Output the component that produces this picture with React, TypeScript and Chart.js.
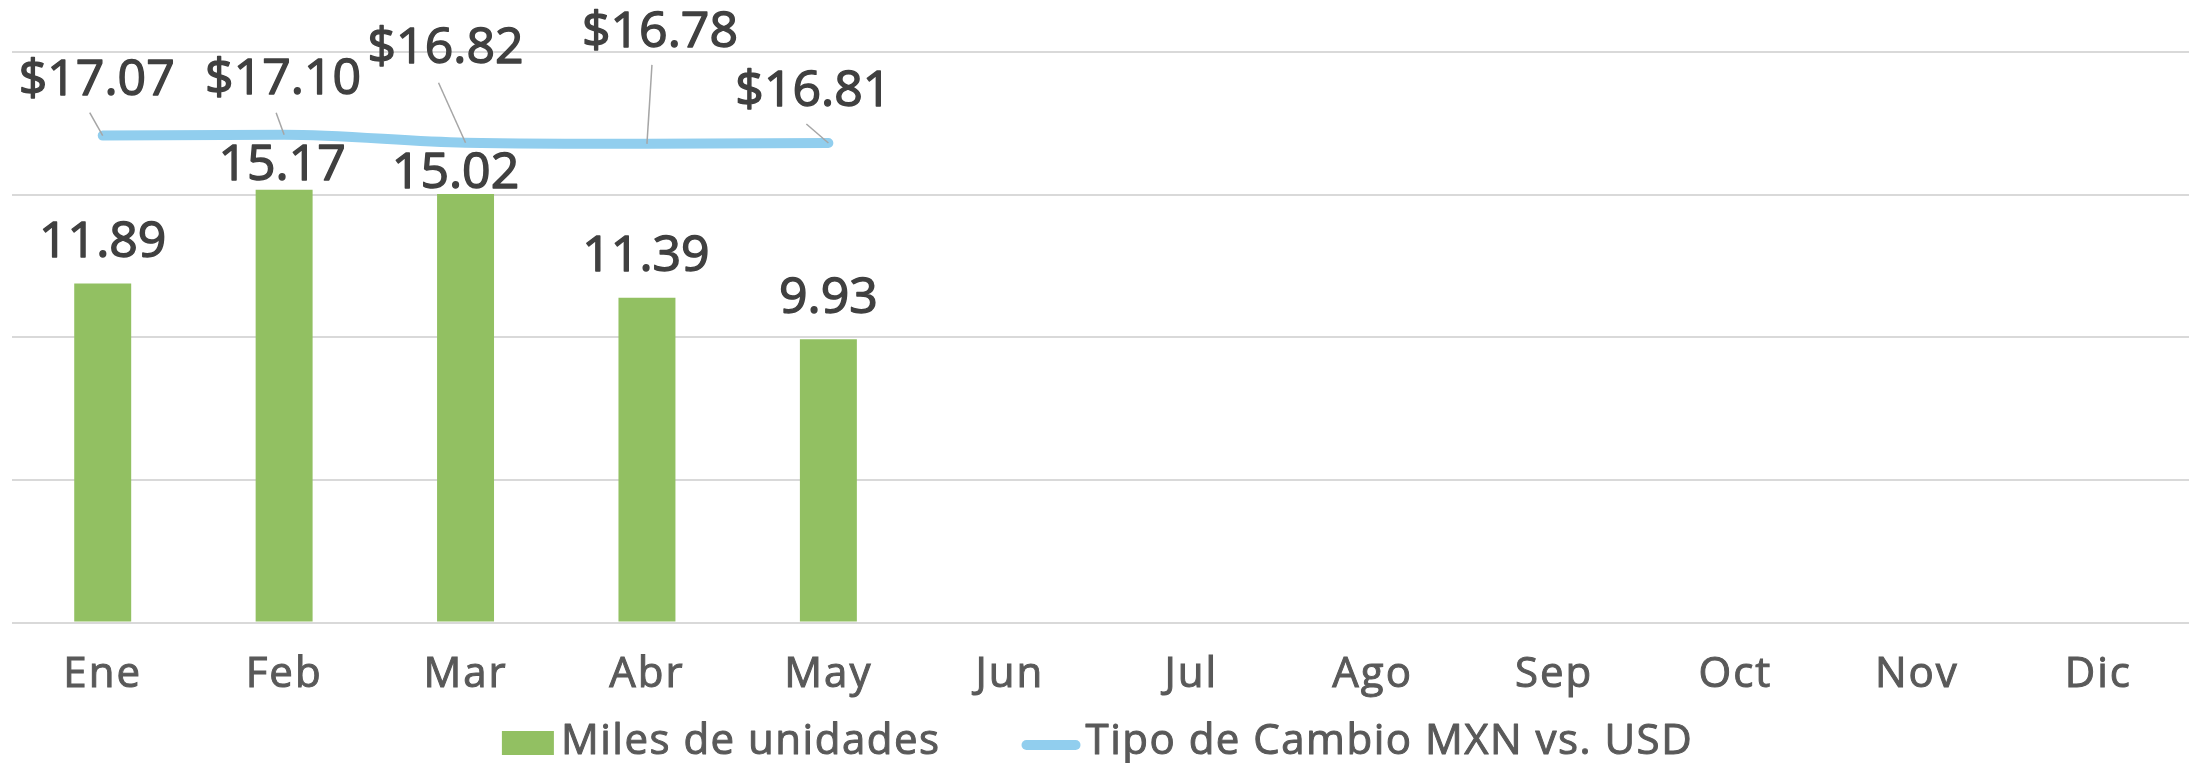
import React, { useEffect, useRef } from 'react';
import { Chart, registerables } from 'chart.js';

Chart.register(...registerables);

const months = ['Ene', 'Feb', 'Mar', 'Abr', 'May', 'Jun', 'Jul', 'Ago', 'Sep', 'Oct', 'Nov', 'Dic'];
const unidades: (number | null)[] = [11.89, 15.17, 15.02, 11.39, 9.93, null, null, null, null, null, null, null];
const tipoCambio: (number | null)[] = [17.07, 17.1, 16.82, 16.78, 16.81, null, null, null, null, null, null, null];
const axisMin = 0;
const axisMax = 20;
const axisStep = 5;
const seriesNames = ['Miles de unidades', 'Tipo de Cambio MXN vs. USD'];

const FONT = '"Open Sans", Lato, sans-serif';
const BAR_COLOR = '#92C062';
const LINE_COLOR = '#91CEEE';
const LABEL_COLOR = '#404040';
const AXIS_COLOR = '#595959';

// label placement (offsets from the element, in px): [dx, baseline dy]
const barLabelOffsets = [[0, -26], [-2, -10], [-10, -6], [-1, -27], [0, -26]];
const lineLabelOffsets = [[-6, -41], [-1, -41], [-20, -80], [13, -97], [-15, -37]];
const leaderStarts = [[-13, -23], [-8, -22], [-27, -60], [5, -79], [-22, -19]];

function boldText(ctx: CanvasRenderingContext2D, text: string, x: number, y: number, color: string, w: number) {
  ctx.fillStyle = color;
  ctx.strokeStyle = color;
  ctx.lineWidth = w;
  ctx.lineJoin = 'round';
  ctx.strokeText(text, x, y);
  ctx.fillText(text, x, y);
}

const labelsPlugin = {
  id: 'valueLabels',
  beforeDraw(chart: any) {
    chart.ctx.letterSpacing = '2px';
  },
  afterDatasetsDraw(chart: any) {
    const ctx = chart.ctx;
    ctx.save();
    ctx.letterSpacing = '0px';
    ctx.font = `50px ${FONT}`;
    ctx.textAlign = 'center';
    ctx.textBaseline = 'alphabetic';
    const barMeta = chart.getDatasetMeta(0);
    barMeta.data.forEach((el: any, i: number) => {
      const v = unidades[i];
      if (v == null) return;
      const off = barLabelOffsets[i] || [0, -26];
      boldText(ctx, v.toFixed(2), el.x + off[0], el.y + off[1], LABEL_COLOR, 1.4);
    });
    const lineMeta = chart.getDatasetMeta(1);
    lineMeta.data.forEach((el: any, i: number) => {
      const v = tipoCambio[i];
      if (v == null) return;
      const ls = leaderStarts[i] || [0, -20];
      ctx.strokeStyle = '#A6A6A6';
      ctx.lineWidth = 1.5;
      ctx.beginPath();
      ctx.moveTo(el.x + ls[0], el.y + ls[1]);
      ctx.lineTo(el.x, el.y);
      ctx.stroke();
      const off = lineLabelOffsets[i] || [0, -40];
      boldText(ctx, '$' + v.toFixed(2), el.x + off[0], el.y + off[1], LABEL_COLOR, 1.4);
    });
    ctx.restore();
  },
  afterDraw(chart: any) {
    const ctx = chart.ctx;
    ctx.save();
    ctx.letterSpacing = '1.5px';
    ctx.font = `42px ${FONT}`;
    ctx.textBaseline = 'alphabetic';
    ctx.textAlign = 'left';
    const baseline = chart.height - 9;
    const w1 = ctx.measureText(seriesNames[0]).width;
    const w2 = ctx.measureText(seriesNames[1]).width;
    const boxW = 52, gap1 = 7, itemGap = 81, lineW = 59, gap2 = 5;
    const total = boxW + gap1 + w1 + itemGap + lineW + gap2 + w2;
    let x = (chart.width - total) / 2;
    ctx.fillStyle = BAR_COLOR;
    ctx.fillRect(x, baseline - 23, boxW, 24);
    x += boxW + gap1;
    boldText(ctx, seriesNames[0], x, baseline, AXIS_COLOR, 1);
    x += w1 + itemGap;
    ctx.strokeStyle = LINE_COLOR;
    ctx.lineWidth = 10;
    ctx.lineCap = 'round';
    ctx.beginPath();
    ctx.moveTo(x + 5, baseline - 9);
    ctx.lineTo(x + lineW - 5, baseline - 9);
    ctx.stroke();
    x += lineW + gap2;
    ctx.lineCap = 'butt';
    boldText(ctx, seriesNames[1], x, baseline, AXIS_COLOR, 1);
    ctx.restore();
    ctx.letterSpacing = '0px';
  },
};

export default function App() {
  const ref = useRef<HTMLCanvasElement | null>(null);
  useEffect(() => {
    if (!ref.current) return;
    const chart = new Chart(ref.current, {
      type: 'bar',
      data: {
        labels: months,
        datasets: [
          {
            type: 'bar',
            label: seriesNames[0],
            data: unidades,
            backgroundColor: BAR_COLOR,
            barPercentage: 0.314,
            categoryPercentage: 1,
            yAxisID: 'y',
            order: 2,
          },
          {
            type: 'line',
            label: seriesNames[1],
            data: tipoCambio,
            borderColor: LINE_COLOR,
            backgroundColor: LINE_COLOR,
            borderWidth: 10,
            borderCapStyle: 'round',
            borderJoinStyle: 'round',
            pointRadius: 0,
            cubicInterpolationMode: 'monotone',
            yAxisID: 'y1',
            order: 1,
          },
        ] as any,
      },
      options: {
        responsive: false,
        animation: false,
        devicePixelRatio: 1,
        layout: { padding: { top: 52, left: 12, right: 6, bottom: 36 } },
        plugins: { legend: { display: false }, tooltip: { enabled: false } },
        scales: {
          x: {
            grid: { display: false, drawTicks: false },
            border: { display: false },
            ticks: {
              color: AXIS_COLOR,
              font: { family: FONT, size: 42 },
              padding: 27,
              maxRotation: 0,
              textStrokeColor: AXIS_COLOR,
              textStrokeWidth: 1,
            },
          },
          y: {
            min: axisMin,
            max: axisMax,
            ticks: { display: false, stepSize: axisStep },
            grid: { color: '#D9D9D9', lineWidth: 2, drawTicks: false },
            border: { display: false },
          },
          y1: {
            display: false,
            position: 'right',
            min: axisMin,
            max: axisMax,
          },
        },
      } as any,
      plugins: [labelsPlugin],
    });
    return () => chart.destroy();
  }, []);
  return (
    <div style={{ position: 'fixed', left: 0, top: 0, width: 2195, height: 763, background: '#fff' }}>
      <canvas ref={ref} width={2195} height={763} style={{ display: 'block' }} />
    </div>
  );
}
